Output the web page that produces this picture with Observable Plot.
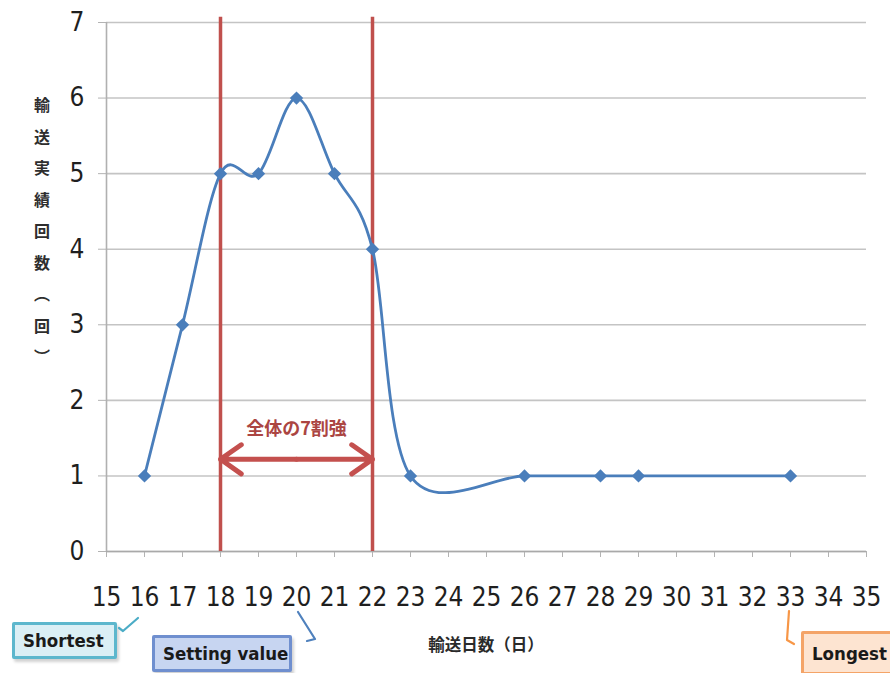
<!DOCTYPE html>
<html>
<head>
<meta charset="utf-8">
<script src="https://cdn.jsdelivr.net/npm/d3@7"></script>
<script src="https://cdn.jsdelivr.net/npm/@observablehq/plot@0.6"></script>
<style>
  html, body { margin: 0; padding: 0; background: #fff; }
  #wrap { position: relative; width: 890px; height: 673px; overflow: hidden; }
  #wrap svg g[aria-label*="axis"] text { fill: #1f1f1f; }
  .ylab { position: absolute; left: 30px; top: 97px; writing-mode: vertical-rl; text-orientation: upright;
          font-family: "Noto Sans CJK JP", sans-serif; font-weight: bold; font-size: 16px; letter-spacing: 15.5px; color: #2e2e2e; }
  .xlab { position: absolute; top: 632px; transform: translateX(-50%);
          font-family: "Noto Sans CJK JP", sans-serif; font-weight: bold; font-size: 16.5px; color: #2a2a2a; white-space: nowrap; }
  .callout { position: absolute; box-sizing: border-box; border: 3px solid; border-radius: 2px;
             font-family: "DejaVu Sans Condensed", "DejaVu Sans", sans-serif; font-stretch: condensed;
             font-weight: bold; font-size: 18.5px; color: #1a1a1a; display: flex; align-items: center; padding-left: 8px;
             box-shadow: 2px 3px 3px rgba(0,0,0,0.18); white-space: nowrap; }
  #conn { position: absolute; left: 0; top: 0; }
</style>
</head>
<body>
<div id="wrap"></div>
<script>
// ---- data ----
const days   = [16, 17, 18, 19, 20, 21, 22, 23, 26, 28, 29, 33];
const counts = [1, 3, 5, 5, 6, 5, 4, 1, 1, 1, 1, 1];
const xTicks = [15, 16, 17, 18, 19, 20, 21, 22, 23, 24, 25, 26, 27, 28, 29, 30, 31, 32, 33, 34, 35];
const yTicks = [0, 1, 2, 3, 4, 5, 6, 7];
const settingRange = [18, 22];
const rangeLabel = "全体の7割強";
const yTitle = "輸送実績回数（回）";
const xTitle = "輸送日数（日）";
const calloutLabels = ["Shortest", "Setting value", "Longest"];
const calloutDays = [16, 20, 33];

const data = days.map((d, i) => ({day: d, count: counts[i]}));
const red = "#c0504d";
const blue = "#4a7ebb";

const chart = Plot.plot({
  width: 890,
  height: 673,
  marginLeft: 106,
  marginRight: 24,
  marginTop: 22,
  marginBottom: 122,
  style: {
    fontFamily: "'Liberation Sans Narrow', 'DejaVu Sans Condensed', sans-serif",
    fontSize: "26px",
    color: "#b3b3b3",
    background: "#fff"
  },
  x: {domain: [15, 35], ticks: xTicks, tickSize: 6, tickPadding: 30, label: null, tickFormat: d => String(d)},
  y: {domain: [0, 7], ticks: yTicks, tickSize: 8, tickPadding: 14, label: null, tickFormat: d => String(d)},
  marks: [
    Plot.ruleY(yTicks, {stroke: "#c4c4c4", strokeWidth: 1.6}),
    Plot.ruleY([0], {stroke: "#a9a9a9", strokeWidth: 1.6}),
    Plot.ruleX([15], {stroke: "#b0b0b0", strokeWidth: 1.6}),
    Plot.ruleX(settingRange, {y1: 0, y2: 7.07, stroke: red, strokeWidth: 3.5}),
    Plot.line(data, {x: "day", y: "count", curve: "cardinal", stroke: blue, strokeWidth: 2.8}),
    Plot.dot(data, {x: "day", y: "count", symbol: "diamond2", r: 6, fill: blue, stroke: null}),
    Plot.arrow([{a: (settingRange[0] + settingRange[1]) / 2, b: settingRange[0]}, {a: (settingRange[0] + settingRange[1]) / 2, b: settingRange[1]}],
      {x1: "a", x2: "b", y1: 1.22, y2: 1.22, stroke: "#c4504e", strokeWidth: 5, headLength: 20, headAngle: 70}),
    Plot.text([rangeLabel], {x: (settingRange[0] + settingRange[1]) / 2, y: 1.62, text: d => d,
      fill: "#ab4542", fontSize: 18, fontWeight: "bold", fontFamily: "'Noto Sans CJK JP', sans-serif"})
  ]
});

const wrap = document.getElementById("wrap");
wrap.appendChild(chart);
const xs = chart.scale("x");

// axis titles
const yl = document.createElement("div");
yl.className = "ylab"; yl.textContent = yTitle; wrap.appendChild(yl);
const xl = document.createElement("div");
xl.className = "xlab"; xl.textContent = xTitle;
xl.style.left = ((xs.range[0] + xs.range[1]) / 2) + "px";
wrap.appendChild(xl);

// callouts
const styles = [
  {dx: -132, top: 622, w: 105, h: 37, border: "#5db7cd", fill: "#dbeff5", line: "#4bacc6",
   path: x => `M${x-25},628 L${x-21},631 L${x-6},618`},
  {dx: -144, top: 635, w: 140, h: 37, border: "#6f8fcf", fill: "#c7d5f1", line: "#4f81bd",
   path: x => `M${x+2},612 L${x+19},639 L${x+11},641`},
  {dx: 11, top: 631, w: 110, h: 44, border: "#f4a468", fill: "#fde4d1", line: "#f79646",
   path: x => `M${x-1},611 L${x-3},640 L${x+4},644`}
];
const ns = "http://www.w3.org/2000/svg";
const conn = document.createElementNS(ns, "svg");
conn.setAttribute("id", "conn"); conn.setAttribute("width", 890); conn.setAttribute("height", 673);
calloutLabels.forEach((lab, i) => {
  const s = styles[i];
  const x = xs.apply(calloutDays[i]);
  const p = document.createElementNS(ns, "path");
  p.setAttribute("d", s.path(x)); p.setAttribute("fill", "none");
  p.setAttribute("stroke", s.line); p.setAttribute("stroke-width", 2.2);
  p.setAttribute("stroke-linecap", "round"); p.setAttribute("stroke-linejoin", "round");
  conn.appendChild(p);
  const b = document.createElement("div");
  b.className = "callout"; b.textContent = lab;
  b.style.left = (x + s.dx) + "px"; b.style.top = s.top + "px";
  b.style.width = s.w + "px"; b.style.height = s.h + "px";
  b.style.borderColor = s.border; b.style.background = s.fill;
  wrap.appendChild(b);
});
wrap.appendChild(conn);
</script>
</body>
</html>
